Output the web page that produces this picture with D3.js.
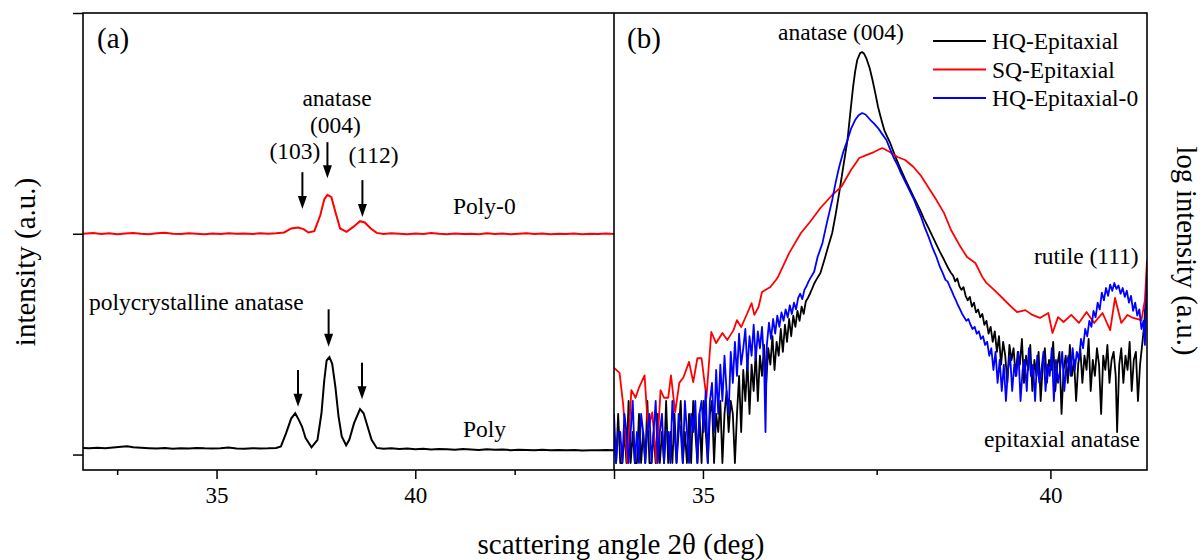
<!DOCTYPE html>
<meta charset="utf-8">
<script src="https://d3js.org/d3.v7.min.js"></script>
<style>
  body { margin: 0; background: #fff; }
  text { font-family: "Liberation Serif", "Times New Roman", serif; fill: #000; }
</style>
<div id="chart"></div>
<script>

// ---- panel (a): linear intensity, offset curves [2theta, intensity]
var poly = [
  [31.64,0.030],[31.8,0.028],[32.0,0.031],[32.2,0.029],[32.4,0.032],[32.6,0.035],[32.75,0.037],[32.9,0.033],
  [33.1,0.031],[33.3,0.029],[33.5,0.027],[33.7,0.030],[33.9,0.026],[34.1,0.029],[34.3,0.027],[34.5,0.030],
  [34.7,0.028],[34.9,0.027],[35.1,0.029],[35.3,0.032],[35.5,0.027],[35.7,0.026],[35.9,0.029],[36.1,0.027],
  [36.3,0.028],[36.50,0.030],[36.62,0.037],[36.75,0.097],[36.88,0.164],[36.98,0.187],[37.07,0.157],
  [37.15,0.127],[37.24,0.075],[37.39,0.033],[37.54,0.067],[37.64,0.187],[37.71,0.336],[37.77,0.426],
  [37.84,0.441],[37.91,0.411],[37.99,0.306],[38.07,0.172],[38.15,0.082],[38.26,0.042],[38.34,0.067],
  [38.46,0.142],[38.61,0.206],[38.70,0.187],[38.80,0.127],[38.90,0.067],[39.03,0.030],[39.2,0.026],
  [39.4,0.028],[39.6,0.025],[39.8,0.027],[40.0,0.024],[40.2,0.026],[40.4,0.023],[40.6,0.025],[40.8,0.024],
  [41.0,0.022],[41.2,0.025],[41.4,0.023],[41.6,0.021],[41.8,0.024],[42.0,0.022],[42.2,0.023],[42.4,0.020],
  [42.6,0.022],[42.8,0.021],[43.0,0.019],[43.2,0.022],[43.4,0.020],[43.6,0.021],[43.8,0.019],[44.0,0.021],
  [44.2,0.018],[44.4,0.020],[44.6,0.019],[44.8,0.021],[45.0,0.020]
];
var poly0 = [
  [31.64,1.000],[31.9,1.003],[32.1,0.999],[32.3,1.002],[32.5,0.998],[32.7,1.001],[32.9,1.004],[33.1,1.000],
  [33.3,0.998],[33.5,1.002],[33.7,1.005],[33.9,1.000],[34.1,0.999],[34.3,1.002],[34.5,1.000],[34.7,0.998],
  [34.9,1.001],[35.1,0.999],[35.3,1.002],[35.5,1.000],[35.7,1.001],[35.9,0.999],[36.1,1.002],[36.3,1.000],
  [36.5,1.002],[36.70,1.006],[36.88,1.024],[37.05,1.028],[37.19,1.021],[37.31,1.006],[37.46,1.012],
  [37.61,1.084],[37.71,1.156],[37.79,1.176],[37.89,1.166],[37.99,1.099],[38.11,1.024],[38.27,1.009],
  [38.44,1.031],[38.61,1.057],[38.73,1.051],[38.88,1.024],[39.03,1.004],[39.2,0.999],[39.4,1.002],
  [39.6,1.000],[39.8,0.998],[40.0,1.001],[40.2,0.999],[40.4,1.003],[40.6,1.000],[40.8,0.998],[41.0,1.001],
  [41.2,0.999],[41.4,1.000],[41.6,0.998],[41.8,1.002],[42.0,0.999],[42.2,1.001],[42.4,0.998],[42.6,1.000],
  [42.8,1.002],[43.0,0.999],[43.2,1.001],[43.4,0.998],[43.6,1.000],[43.8,0.999],[44.0,1.001],[44.2,0.998],
  [44.4,1.000],[44.6,0.999],[44.8,1.001],[45.0,0.999]
];
// arrows in panel (a): [2theta, from, to]
var arrowsA = [
  [37.16,1.279,1.112],[37.79,1.415,1.252],[38.67,1.243,1.076],
  [37.05,0.383,0.216],[37.82,0.658,0.488],[38.66,0.416,0.250]
];

// ---- panel (b): counts, log scale [2theta, counts]
var hqEpi = [
  [33.72,2],[33.75,1],[33.78,3],[33.81,1],[33.84,1],[33.87,2],[33.90,1],[33.93,4],[33.96,1],[33.99,2],
  [34.02,1],[34.05,1],[34.08,3],[34.11,1],[34.14,2],[34.17,1],[34.20,4],[34.23,1],[34.26,1],[34.29,2],
  [34.32,1],[34.35,3],[34.38,1],[34.41,2],[34.44,1],[34.47,4],[34.50,1],[34.53,2],[34.56,1],[34.59,3],
  [34.62,1],[34.65,2],[34.68,4],[34.71,1],[34.74,2],[34.77,1],[34.80,3],[34.83,1],[34.86,4],[34.89,2],
  [34.92,1],[34.95,3],[34.98,1],[35.01,4],[35.04,2],[35.07,1],[35.10,3],[35.13,4],[35.16,1],[35.19,3],
  [35.22,2],[35.25,4],[35.28,1],[35.31,3],[35.34,5],[35.37,2],[35.40,4],[35.43,3],[35.46,1],
  [35.49,3],[35.52,7],[35.55,2],[35.58,8],[35.61,4],[35.64,10],[35.67,3],[35.70,9],[35.73,5],[35.76,12],
  [35.79,4],[35.82,11],[35.85,7],[35.88,14],[35.91,6],[35.94,13],[35.97,9],[36.00,17],[36.03,8],[36.06,15],
  [36.09,11],[36.12,20],[36.15,12],[36.18,22],[36.21,15],[36.24,25],[36.27,17],[36.30,27],[36.33,21],[36.36,30],
  [36.39,24],[36.42,33],[36.45,28],[36.48,37],[36.51,40],[36.54,44],[36.57,49],[36.60,55],[36.63,60],
  [36.69,70],[36.75,95],[36.80,125],[36.86,171],[36.91,260],[36.96,418],[37.02,760],[37.08,1368],
  [37.12,2500],[37.16,4467],[37.19,6300],[37.22,8185],[37.26,9500],[37.29,9772],[37.32,9400],[37.35,8551],
  [37.40,6800],[37.44,5224],[37.48,3900],[37.52,2858],[37.56,2250],[37.61,1700],[37.65,1480],[37.69,1300],
  [37.74,1060],[37.80,840],[37.85,700],[37.91,570],[37.97,470],[38.03,385],[38.08,330],[38.13,280],
  [38.18,235],[38.24,195],[38.30,160],[38.36,132],[38.41,112],[38.47,94],[38.52,80],[38.57,70],
  [38.60,66],[38.63,58],[38.66,62],[38.69,52],[38.72,48],[38.75,51],[38.78,42],[38.81,38],[38.84,41],[38.87,33],
  [38.90,36],[38.93,29],[38.96,31],[38.99,26],[39.02,28],[39.05,22],[39.08,24],[39.11,18],[39.14,21],[39.17,15],
  [39.20,19],[39.23,12],[39.26,17],[39.29,9],[39.32,15],[39.35,11],[39.38,6],[39.41,14],[39.44,10],[39.47,13],
  [39.50,7],[39.53,12],[39.56,9],[39.59,16],[39.62,6],[39.65,11],[39.68,8],[39.71,14],[39.74,5],[39.77,10],
  [39.80,7],[39.83,12],[39.86,4],[39.89,9],[39.92,13],[39.95,6],[39.98,10],[40.01,8],[40.04,15],[40.07,5],
  [40.10,9],[40.13,12],[40.16,3],[40.19,8],[40.22,11],[40.25,6],[40.28,14],[40.31,7],[40.34,10],[40.37,4],
  [40.40,9],[40.43,13],[40.46,6],[40.49,11],[40.52,8],[40.55,16],[40.58,5],[40.61,10],[40.64,7],[40.67,13],
  [40.70,9],[40.73,3],[40.76,11],[40.79,8],[40.82,14],[40.85,6],[40.88,10],[40.91,12],[40.94,7],[40.96,2],
  [40.99,9],[41.02,13],[41.05,6],[41.08,11],[41.11,8],[41.14,15],[41.17,5],[41.20,10],[41.23,12],[41.26,4],
  [41.29,9],[41.32,14],[41.35,22],[41.37,38],[41.39,55]
];
var sqEpi = [
  [33.72,8.4],[33.80,7.5],[33.85,3.8],[33.88,2.1],[33.91,1],[33.97,5.1],[34.03,4.3],[34.08,5.4],[34.16,7.1],
  [34.21,2.1],[34.27,3.1],[34.33,1],[34.39,5.1],[34.44,4.3],[34.50,4.3],[34.54,7.1],[34.60,3.1],[34.66,6.0],
  [34.72,6.8],[34.80,9.6],[34.86,6.1],[34.92,10.4],[34.98,10.4],[35.05,4.3],[35.12,18.7],[35.19,14.6],
  [35.28,18.3],[35.35,15.6],[35.44,19.5],[35.49,24.4],[35.55,20.9],[35.64,28.6],[35.70,35.7],[35.74,27.4],
  [35.80,32.7],[35.85,45.7],[35.97,51.2],[36.05,59.8],[36.08,64],[36.24,109],[36.41,171],[36.54,219],
  [36.69,299],[36.86,400],[36.99,479],[37.13,700],[37.25,914],[37.35,977],[37.46,1045],[37.58,1143],
  [37.69,1045],[37.80,935],[37.91,875],[38.03,748],[38.13,625],[38.24,479],[38.36,357],[38.47,267],
  [38.57,183],[38.69,131],[38.80,100],[38.92,87.5],[39.02,64],[39.08,56],[39.19,47.9],[39.31,40],
  [39.41,34.2],[39.52,29.2],[39.64,30.5],[39.74,27.4],[39.85,25.6],[39.97,28.6],[40.03,18.3],[40.11,26.1],
  [40.19,23.4],[40.30,27.4],[40.41,22.9],[40.52,29.2],[40.63,22.9],[40.75,28.6],[40.86,19.5],[40.93,40],
  [41.02,22.9],[41.11,27.4],[41.19,25.6],[41.31,24.4],[41.36,38.3],[41.39,93]
];
var hqEpi0 = [
  [33.72,3],[33.75,1],[33.78,2],[33.81,2],[33.84,1],[33.87,3],[33.90,2],[33.93,1],[33.96,2],[33.99,4],
  [34.02,1],[34.05,2],[34.08,1],[34.11,3],[34.14,2],[34.17,1],[34.20,2],[34.23,3],[34.26,1],[34.29,2],
  [34.32,4],[34.35,1],[34.38,2],[34.41,3],[34.44,1],[34.47,2],[34.50,2],[34.53,1],[34.56,4],[34.59,2],
  [34.62,1],[34.65,3],[34.68,2],[34.71,1],[34.74,4],[34.77,2],[34.80,1],[34.83,3],[34.86,2],[34.89,4],
  [34.92,1],[34.95,3],[34.98,4],[35.01,2],[35.04,5],[35.07,1],[35.10,4],
  [35.13,6],[35.16,2],[35.19,8],[35.22,3],[35.25,9],[35.28,4],[35.31,11],[35.34,5],[35.37,3],[35.40,12],
  [35.43,6],[35.46,15],[35.49,7],[35.52,18],[35.55,9],[35.58,13],[35.61,20],[35.64,8],[35.67,17],[35.70,11],
  [35.73,22],[35.76,10],[35.79,19],[35.82,13],[35.85,21],[35.88,9],[35.90,2],[35.92,14],[35.95,23],[35.98,16],
  [36.01,25],[36.04,18],[36.07,27],[36.10,21],[36.13,29],[36.16,24],[36.19,31],[36.22,26],[36.25,34],[36.28,28],
  [36.31,36],[36.34,31],[36.37,40],[36.40,44],[36.43,39],[36.46,48],[36.49,52],[36.52,58],[36.55,63],
  [36.60,72],[36.65,100],[36.72,137],[36.78,210],[36.86,357],[36.91,530],[36.96,748],[37.02,1050],
  [37.08,1368],[37.13,1750],[37.19,2138],[37.24,2380],[37.29,2500],[37.34,2420],[37.41,2138],[37.46,1980],
  [37.52,1786],[37.58,1560],[37.64,1368],[37.69,1130],[37.74,935],[37.80,780],[37.85,654],[37.91,540],
  [37.97,447],[38.03,370],[38.08,305],[38.14,245],[38.19,195],[38.25,155],[38.30,125],[38.36,100],
  [38.41,80],[38.45,70],[38.49,60],
  [38.52,58],[38.55,52],[38.58,47],[38.61,42],[38.64,38],[38.67,34],[38.70,31],[38.73,28],[38.76,26],[38.79,24],
  [38.82,25],[38.85,22],[38.88,20],[38.91,21],[38.94,18],[38.97,19],[39.00,16],[39.03,17],[39.06,14],[39.09,15],
  [39.12,11],[39.15,13],[39.18,8],[39.21,12],[39.24,6],[39.27,10],[39.30,5],[39.33,9],[39.36,4],[39.39,8],
  [39.42,11],[39.45,5],[39.48,9],[39.51,7],[39.54,12],[39.57,4],[39.60,8],[39.63,10],[39.66,5],[39.69,13],
  [39.72,7],[39.75,9],[39.78,4],[39.81,11],[39.84,6],[39.87,8],[39.90,12],[39.93,5],[39.96,9],[39.99,7],
  [40.02,13],[40.05,4],[40.08,10],[40.11,6],[40.14,8],[40.17,12],[40.20,5],[40.23,9],[40.26,11],[40.29,7],
  [40.32,13],[40.35,8],[40.38,12],[40.41,10],[40.44,16],[40.47,13],[40.50,20],[40.53,17],[40.56,24],[40.59,21],
  [40.62,30],[40.65,26],[40.68,36],[40.71,31],[40.74,45],[40.77,38],[40.80,50],[40.83,42],[40.86,54],[40.89,47],
  [40.92,56],[40.95,49],[40.98,53],[41.01,44],[41.04,50],[41.07,41],[41.10,47],[41.13,36],[41.16,42],[41.19,30],
  [41.22,36],[41.25,27],[41.28,31],[41.31,20],[41.34,24],[41.36,14],[41.38,40],[41.39,70]
];

var seriesB = [
  {name: "HQ-Epitaxial", data: hqEpi, color: "#000000"},
  {name: "SQ-Epitaxial", data: sqEpi, color: "#ff0000"},
  {name: "HQ-Epitaxial-0", data: hqEpi0, color: "#0000ff"}
];

var majorA = [35, 40, 45], minorA = [32.5, 37.5, 42.5];
var majorB = [35, 40], minorB = [37.5];
var labelsA = [35, 40];

// ---- layout
var W = 1203, H = 560;
var plotTop = 13, plotBottom = 470, leftA = 83, splitX = 614, rightB = 1147;

var svg = d3.select("#chart").append("svg")
  .attr("width", W).attr("height", H);

var xA = d3.scaleLinear().domain([31.64, 45]).range([leftA, splitX]);
var yA = d3.scaleLinear().domain([-0.07, 2]).range([plotBottom, plotTop]);
var xB = d3.scaleLinear().domain([33.72, 41.39]).range([splitX, rightB]);
var yB = d3.scaleLog().domain([0.855, 23400]).range([plotBottom, plotTop]);

var defs = svg.append("defs");
defs.append("clipPath").attr("id", "clipA").append("rect")
  .attr("x", leftA).attr("y", plotTop).attr("width", splitX - leftA).attr("height", plotBottom - plotTop);
defs.append("clipPath").attr("id", "clipB").append("rect")
  .attr("x", splitX).attr("y", plotTop).attr("width", rightB - splitX).attr("height", plotBottom - plotTop);

// curves
var lineA = d3.line().x(function(d) { return xA(d[0]); }).y(function(d) { return yA(d[1]); });
var lineB = d3.line().x(function(d) { return xB(d[0]); }).y(function(d) { return yB(d[1]); });

var gA = svg.append("g").attr("clip-path", "url(#clipA)");
gA.append("path").datum(poly).attr("d", lineA)
  .attr("fill", "none").attr("stroke", "#000").attr("stroke-width", 2);
gA.append("path").datum(poly0).attr("d", lineA)
  .attr("fill", "none").attr("stroke", "#ff0000").attr("stroke-width", 2);

var gB = svg.append("g").attr("clip-path", "url(#clipB)");
seriesB.forEach(function(s) {
  gB.append("path").datum(s.data).attr("d", lineB)
    .attr("fill", "none").attr("stroke", s.color).attr("stroke-width", 1.8)
    .attr("stroke-linejoin", "round");
});

// arrows
arrowsA.forEach(function(a) {
  var x = xA(a[0]), y1 = yA(a[1]), y2 = yA(a[2]);
  svg.append("line").attr("x1", x).attr("x2", x).attr("y1", y1).attr("y2", y2 - 11)
    .attr("stroke", "#000").attr("stroke-width", 2);
  svg.append("path")
    .attr("d", "M" + (x - 4.5) + "," + (y2 - 13) + "L" + (x + 4.5) + "," + (y2 - 13) + "L" + x + "," + y2 + "Z")
    .attr("fill", "#000");
});

// axes
function styleAxis(g) {
  g.select(".domain").remove();
  g.selectAll(".tick line").attr("stroke", "#000").attr("stroke-width", 1.5);
  g.selectAll("text").attr("font-size", 23).attr("font-family", "Liberation Serif").attr("fill", "#000");
}
svg.append("g").attr("transform", "translate(0," + plotBottom + ")")
  .call(d3.axisBottom(xA).tickValues(majorA).tickSize(9).tickPadding(8)
    .tickFormat(function(d) { return labelsA.indexOf(d) >= 0 ? d : ""; }))
  .call(styleAxis);
svg.append("g").attr("transform", "translate(0," + plotBottom + ")")
  .call(d3.axisBottom(xA).tickValues(minorA).tickSize(5).tickFormat(""))
  .call(styleAxis);
svg.append("g").attr("transform", "translate(0," + plotBottom + ")")
  .call(d3.axisBottom(xB).tickValues(majorB).tickSize(9).tickPadding(8).tickFormat(d3.format("d")))
  .call(styleAxis);
svg.append("g").attr("transform", "translate(0," + plotBottom + ")")
  .call(d3.axisBottom(xB).tickValues(minorB).tickSize(5).tickFormat(""))
  .call(styleAxis);
svg.append("g").attr("transform", "translate(" + leftA + ",0)")
  .call(d3.axisLeft(yA).tickValues([0, 1, 2]).tickSize(10).tickFormat(""))
  .call(styleAxis);

// frame
svg.append("rect").attr("x", leftA).attr("y", plotTop)
  .attr("width", rightB - leftA).attr("height", plotBottom - plotTop)
  .attr("fill", "none").attr("stroke", "#000").attr("stroke-width", 1.6);
svg.append("line").attr("x1", splitX).attr("x2", splitX).attr("y1", plotTop).attr("y2", plotBottom)
  .attr("stroke", "#000").attr("stroke-width", 1.6);

// texts
function label(x, y, s, size, anchor) {
  return svg.append("text").attr("x", x).attr("y", y)
    .attr("font-size", size).attr("text-anchor", anchor || "start").text(s);
}
label(97, 48, "(a)", 29);
label(627, 48, "(b)", 29);
label(337, 106, "anatase", 23.5, "middle");
label(335.5, 133, "(004)", 23.5, "middle");
label(295, 159, "(103)", 23.5, "middle");
label(373.5, 163, "(112)", 23.5, "middle");
label(453, 214, "Poly-0", 23.5);
label(89, 310, "polycrystalline anatase", 23.5);
label(463, 437, "Poly", 23.5);
label(778, 40, "anatase (004)", 23.5);
label(1034, 264, "rutile (111)", 23.5);
label(984, 447, "epitaxial anatase", 23.5);

// legend
seriesB.forEach(function(s, i) {
  var y = 41 + i * 28.5;
  svg.append("line").attr("x1", 933).attr("x2", 986).attr("y1", y).attr("y2", y)
    .attr("stroke", s.color).attr("stroke-width", 2);
  label(992, y + 8, s.name, 23.5);
});

// axis titles
label(621, 554, "scattering angle 2\u03b8 (deg)", 29, "middle");
svg.append("text").attr("transform", "translate(35,262) rotate(-90)")
  .attr("font-size", 29).attr("text-anchor", "middle").text("intensity (a.u.)");
svg.append("text").attr("transform", "translate(1177,251) rotate(90)")
  .attr("font-size", 28.5).attr("text-anchor", "middle").text("log intensity (a.u.)");

</script>
